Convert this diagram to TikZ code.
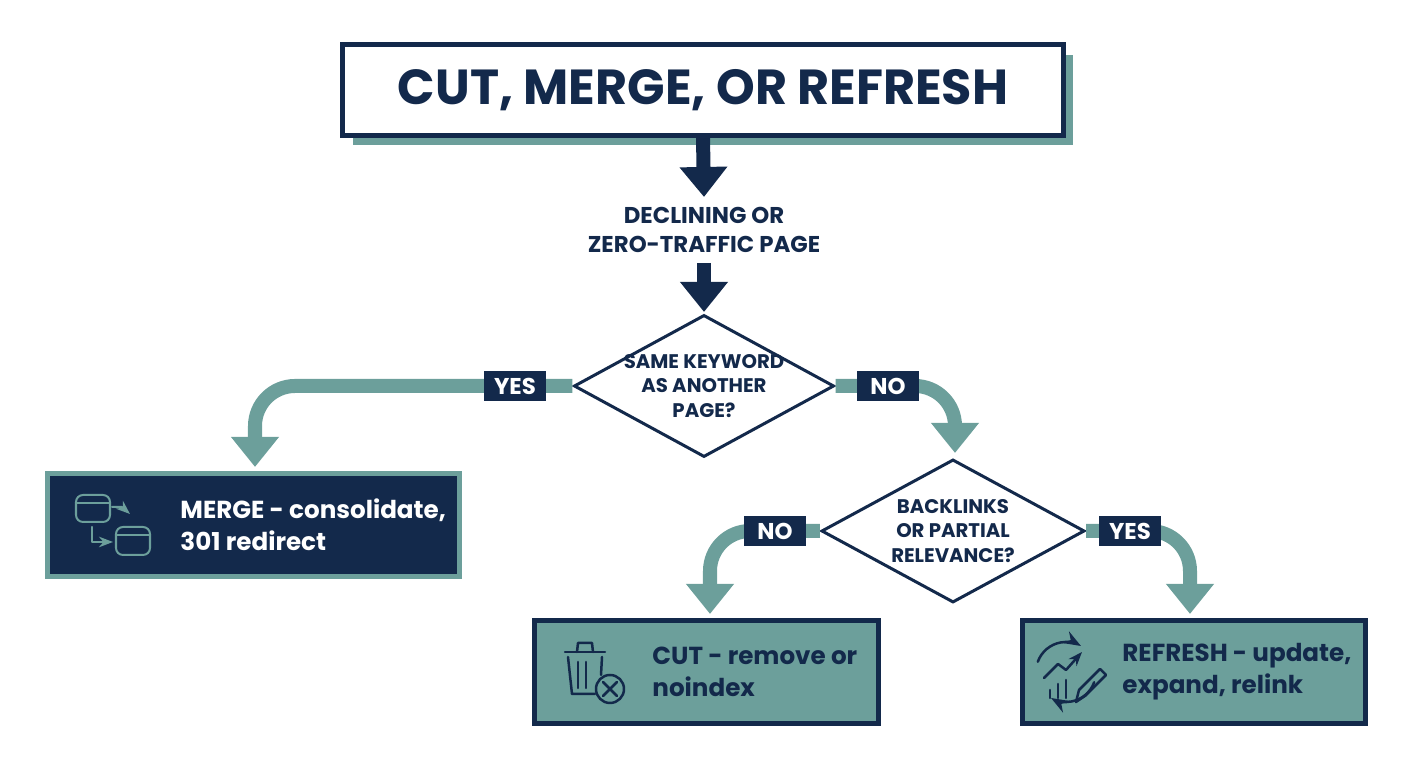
\documentclass[tikz,border=0pt]{standalone}
\usepackage{fontspec}
\setmainfont{Poppins}
\usetikzlibrary{arrows.meta,shapes.geometric,positioning}
\definecolor{navy}{HTML}{13294B}
\definecolor{teal}{HTML}{6C9F9B}
\tikzset{
  down/.style={navy, line width=0.14cm, -{Triangle[length=0.3cm,width=0.46cm]}},
  branch/.style={teal, line width=0.14cm, rounded corners=0.4cm, -{Triangle[length=0.3cm,width=0.46cm]}},
  ask/.style={diamond, draw=navy, line width=0.03cm, fill=white, inner sep=0pt},
  asktext/.style={font=\fontsize{5.6}{7}\selectfont\bfseries, text=navy, align=center},
  tag/.style={fill=navy, text=white, font=\fontsize{6.5}{8}\selectfont\bfseries, minimum width=0.62cm, minimum height=0.3cm, inner sep=2pt},
  result/.style={rectangle, line width=0.05cm, minimum height=1.03cm, anchor=west, inner sep=0pt},
  say/.style={font=\fontsize{7}{9}\selectfont\bfseries, align=left, anchor=west},
  icon/.style={line width=0.02cm, line cap=round, line join=round}
}
\begin{document}
\begin{tikzpicture}[x=0.01cm,y=-0.01cm]
\useasboundingbox (0,0) rectangle (1408,768);
% title
\fill[teal] (353,55) rectangle (1073,145);
\node (title)[draw=navy, fill=white, line width=0.05cm, minimum width=7.2cm, minimum height=0.9cm,
  font=\fontsize{14}{17}\selectfont\bfseries, text=navy] at (703,90) {CUT, MERGE, OR REFRESH};
\node (page)[font=\fontsize{6.5}{8.5}\selectfont\bfseries, text=navy, align=center] at (704,230) {DECLINING OR\\ZERO-TRAFFIC PAGE};
\draw[down] (title.south) -- (704,197);
\draw[down] (704,263) -- (704,312);
% questions
\node (q1)[ask, minimum width=2.6cm, minimum height=1.42cm] at (704,386) {};
\node (q1t)[asktext] at (q1) {SAME KEYWORD\\AS ANOTHER\\PAGE?};
\node (q2)[ask, minimum width=2.63cm, minimum height=1.43cm] at (953,531) {};
\node (q2t)[asktext] at (q2) {BACKLINKS\\OR PARTIAL\\RELEVANCE?};
% results
\node (merge)[result, draw=teal, fill=navy, minimum width=4.12cm] at (45,525) {};
\node (cut)[result, draw=navy, fill=teal, minimum width=3.44cm] at (532,672) {};
\node (refresh)[result, draw=navy, fill=teal, minimum width=3.43cm] at (1020,672) {};
\node[say, text=white] at (168,525) {MERGE - consolidate,\\301 redirect};
\node[say, text=navy] at (640,672) {CUT - remove or\\noindex};
\node[say, text=navy] at (1110,672) {REFRESH - update,\\expand, relink};
% branches
\draw[branch] (q1.west) -| (255,467);
\draw[branch] (q1.east) -| (955,453);
\draw[branch] (q2.west) -| (710,614);
\draw[branch] (q2.east) -| (1190,614);
\node[tag] at (515,386) {YES};
\node[tag] at (888,386) {NO};
\node[tag] at (775,531) {NO};
\node[tag] at (1130,531) {YES};
% merge icon
\begin{scope}[teal, icon]
\draw[rounded corners=2pt] (76,495) rectangle (110,522);
\draw (76,503) -- (110,503);
\draw[rounded corners=2pt] (116,527) rectangle (150,555);
\draw (116,535) -- (150,535);
\draw[-{Stealth[length=4pt]}] (112,507) -- (122,507) -- (130,514);
\draw[-{Stealth[length=4pt]}] (92,527) -- (92,542) -- (113,542);
\end{scope}
% trash icon
\begin{scope}[navy, icon, line width=0.025cm]
\draw (565,652) -- (605,652);
\draw (577,652) -- (578,643) -- (592,643) -- (593,652);
\draw (568,657) -- (572,694) -- (595,694);
\draw (602,657) -- (601,675);
\draw (578,662) -- (578,688) (586,662) -- (586,688);
\draw (610,689) circle (14);
\draw (603,682) -- (617,696) (617,682) -- (603,696);
\end{scope}
% refresh icon
\begin{scope}[navy, icon, line width=0.025cm]
\draw[-{Stealth[length=5pt]}] ([shift={(1066,672)}]200:30) arc (200:300:30);
\draw[-{Stealth[length=5pt]}] ([shift={(1066,672)}]20:30) arc (20:120:30);
\draw (1050,690) -- (1050,698) (1058,684) -- (1058,698) (1066,680) -- (1066,698);
\draw[-{Stealth[length=4pt]}] (1044,678) -- (1058,664) -- (1066,670) -- (1082,652);
\draw (1076,702) -- (1079,690) -- (1100,669) -- (1106,675) -- (1085,696) -- cycle;
\end{scope}
\end{tikzpicture}
\end{document}
